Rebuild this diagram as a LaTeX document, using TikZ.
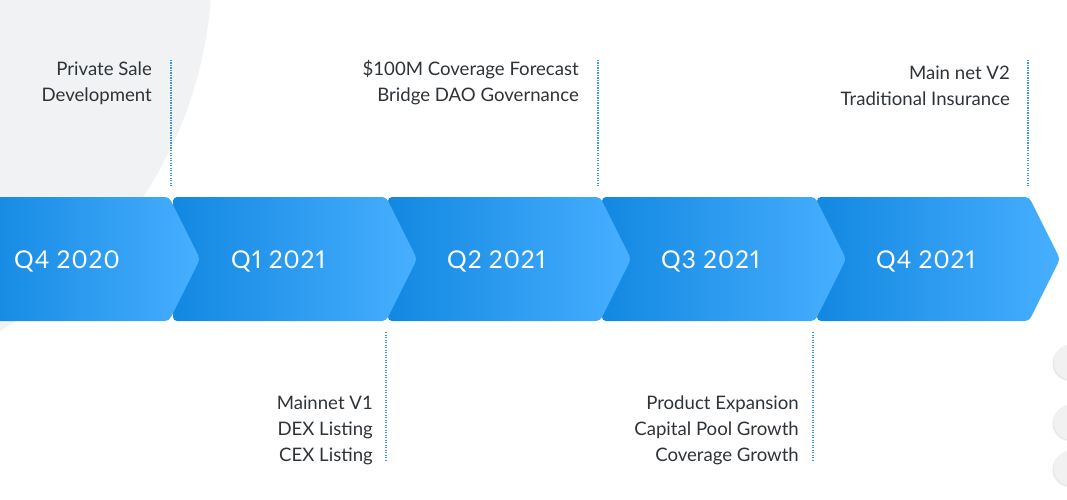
\documentclass[tikz,border=0pt]{standalone}
\usepackage{fontspec}
\setmainfont{Lato}
\usetikzlibrary{shadows}
\definecolor{txt}{HTML}{2E3338}
\definecolor{tickc}{HTML}{3A97EE}
\definecolor{bgc}{HTML}{F1F2F4}
\definecolor{cdark}{HTML}{1388E1}
\definecolor{clight}{HTML}{47AFFF}
\definecolor{btnc}{HTML}{F1F1F1}
\newcommand\mychev[2]{\path[chev] (#1,197) -- (#2,197) -- ({#2+31},259) -- (#2,321) -- (#1,321) -- cycle;}
\begin{document}
\begin{tikzpicture}[x=1pt,y=-1pt,
  chev/.style={left color=cdark,right color=clight,rounded corners=4pt},
  tick/.style={draw=tickc,line width=1.3pt,dash pattern=on 1.2pt off 1.3pt},
  item/.style={anchor=base east,inner sep=0pt,text=txt,font=\fontsize{18.6}{23}\selectfont},
  qlab/.style={anchor=base west,inner sep=0pt,text=white,font=\fontsize{24.5}{28}\selectfont\addfontfeatures{LetterSpace=4,Numbers=Proportional}},
  btn/.style={fill=btnc,drop shadow={opacity=0.18,shadow xshift=-1pt,shadow yshift=-1.5pt}}]
\useasboundingbox (0,0) rectangle (1067,500);
\clip (0,0) rectangle (1067,500);
% background circle
\fill[bgc] (-206,-33) circle (418);
% tick lines
\coordinate (t1a) at (171,60);  \coordinate (t1b) at (171,187);
\coordinate (t3a) at (598,60);  \coordinate (t3b) at (598,187);
\coordinate (t5a) at (1028,60); \coordinate (t5b) at (1028,187);
\coordinate (b2a) at (386,332); \coordinate (b2b) at (386,461);
\coordinate (b4a) at (813,332); \coordinate (b4b) at (813,461);
\draw[tick] (t1a) -- (t1b);
\draw[tick] (t3a) -- (t3b);
\draw[tick] (t5a) -- (t5b);
\draw[tick] (b2a) -- (b2b);
\draw[tick] (b4a) -- (b4b);
% texts
\node[item] (a1) at (152,76) {Private Sale};
\node[item] (a2) at (152,102) {Development};
\node[item] (c1) at (579,76) {\$100M Coverage Forecast};
\node[item] (c2) at (579,102) {Bridge DAO Governance};
\node[item] (e1) at (1010,80) {Main net V2};
\node[item] (e2) at (1010,106) {Traditional Insurance};
\node[item] (b1) at (373,409) {Mainnet V1};
\node[item] (b2) at (373,435) {DEX Listing};
\node[item] (b3) at (373,461) {CEX Listing};
\node[item] (d1) at (799,409) {Product Expansion};
\node[item] (d2) at (799,435) {Capital Pool Growth};
\node[item] (d3) at (799,461) {Coverage Growth};
% chevrons (drawn right to left so each tip overlaps the next)
\mychev{817}{1029}
\mychev{602}{815}
\mychev{388}{600}
\mychev{173}{386}
\mychev{-20}{169}
\node[qlab] (q1) at (14,268) {Q4 2020};
\node[qlab] (q2) at (231,268) {Q1 2021};
\node[qlab] (q3) at (447,268) {Q2 2021};
\node[qlab] (q4) at (661,268) {Q3 2021};
\node[qlab] (q5) at (876,268) {Q4 2021};
% side buttons
\path[btn] (1071,362) circle (17.5);
\path[btn] (1071,422) circle (17.5);
\path[btn] (1071,468) circle (17.5);
\end{tikzpicture}
\end{document}
